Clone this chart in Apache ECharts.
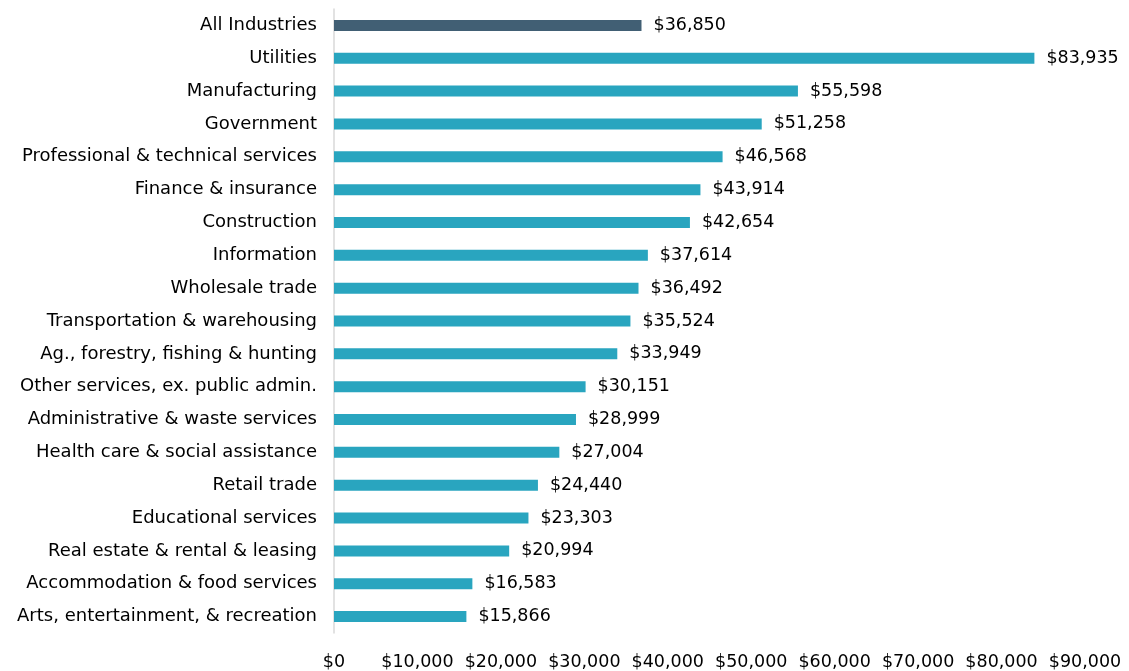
<!DOCTYPE html>
<html><head><meta charset="utf-8">
<script src="https://cdn.jsdelivr.net/npm/echarts@6/dist/echarts.min.js"></script>
<style>html,body{margin:0;padding:0;background:#fff}#c{width:1129px;height:671px}</style>
</head><body><div id="c"></div>
<script>
const categories = ["All Industries","Utilities","Manufacturing","Government","Professional & technical services","Finance & insurance","Construction","Information","Wholesale trade","Transportation & warehousing","Ag., forestry, fishing & hunting","Other services, ex. public admin.","Administrative & waste services","Health care & social assistance","Retail trade","Educational services","Real estate & rental & leasing","Accommodation & food services","Arts, entertainment, & recreation"];
const values = [36850,83935,55598,51258,46568,43914,42654,37614,36492,35524,33949,30151,28999,27004,24440,23303,20994,16583,15866];
const highlight = "All Industries";
const FONT = "DejaVu Sans";
const chart = echarts.init(document.getElementById('c'));
const fmt = v => '$' + v.toLocaleString('en-US');
chart.setOption({
  animation:false,
  grid:{left:334,right:44,top:9,bottom:38,containLabel:false},
  xAxis:{type:'value',min:0,max:90000,interval:10000,
    axisLine:{show:false},axisTick:{show:false},splitLine:{show:false},
    axisLabel:{formatter:fmt,color:'#000',fontFamily:FONT,fontSize:17.5,margin:20}},
  yAxis:{type:'category',inverse:true,data:categories,
    axisLine:{show:true,lineStyle:{color:'#d9d9d9',width:1.5}},axisTick:{show:false},
    axisLabel:{color:'#000',fontFamily:FONT,fontSize:18,margin:17}},
  series:[{type:'bar',barWidth:11,
    data:values.map((v,i)=>({value:v,itemStyle:{color:categories[i]===highlight?'#415f74':'#29a5bf'}})),
    label:{show:true,position:'right',distance:12,formatter:p=>fmt(p.value),color:'#000',fontFamily:FONT,fontSize:17.5}}]
});
</script></body></html>
